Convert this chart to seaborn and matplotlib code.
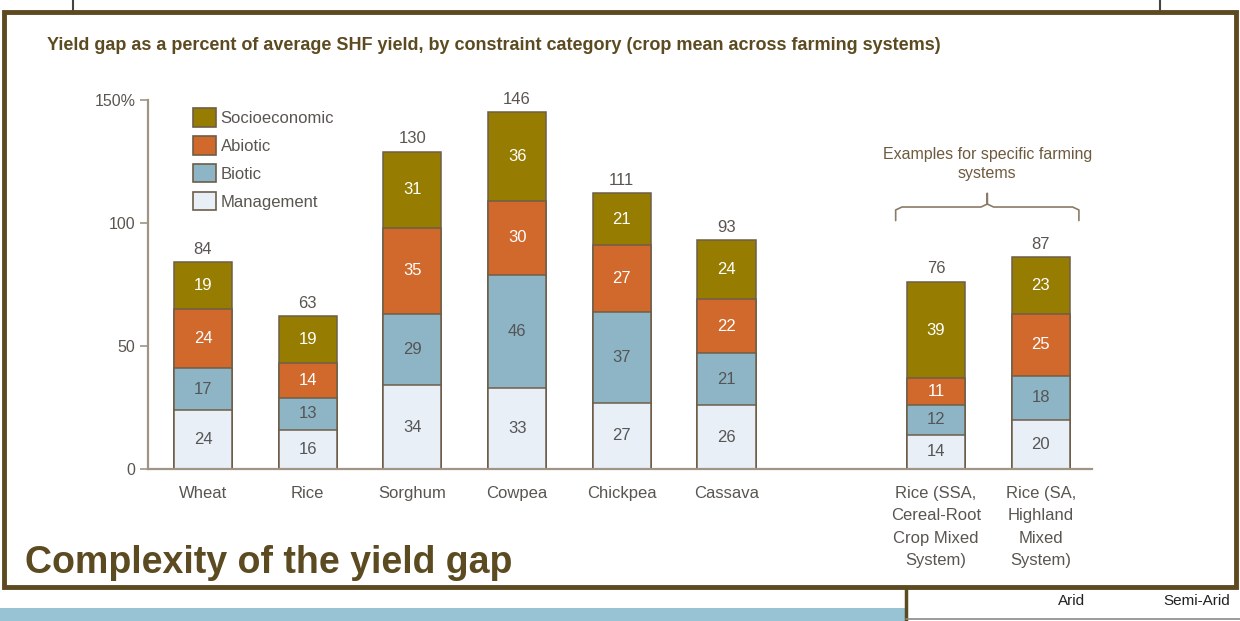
import matplotlib
matplotlib.use("Agg")
import matplotlib.pyplot as plt
import matplotlib.patches as mpatches
import matplotlib.lines as mlines
import numpy as np
import pandas as pd
import seaborn as sns

# ---------------- data ----------------
crops = ["Wheat", "Rice", "Sorghum", "Cowpea", "Chickpea", "Cassava",
         "Rice (SSA,\nCereal-Root\nCrop Mixed\nSystem)",
         "Rice (SA,\nHighland\nMixed\nSystem)"]
management = [24, 16, 34, 33, 27, 26, 14, 20]
biotic = [17, 13, 29, 46, 37, 21, 12, 18]
abiotic = [24, 14, 35, 30, 27, 22, 11, 25]
socioeconomic = [19, 19, 31, 36, 21, 24, 39, 23]
totals = [84, 63, 130, 146, 111, 93, 76, 87]
series_names = ["Management", "Biotic", "Abiotic", "Socioeconomic"]
y_ticks = [0, 50, 100, 150]
y_tick_labels = ["0", "50", "100", "150%"]
title = ("Yield gap as a percent of average SHF yield, by constraint category "
         "(crop mean across farming systems)")
slide_title = "Complexity of the yield gap"
bracket_text = "Examples for specific farming\nsystems"

# ---------------- style ----------------
colors = {"Socioeconomic": "#967C00", "Abiotic": "#D0692B",
          "Biotic": "#8DB5C6", "Management": "#E8EFF7"}
label_colors = {"Socioeconomic": "white", "Abiotic": "white",
                "Biotic": "#555555", "Management": "#555555"}
edge = "#6E5E49"
axis_col = "#A09585"
text_grey = "#5A5550"
brown = "#5C4A20"

sns.set_theme(style="white")
plt.rcParams["font.family"] = ["Liberation Sans Narrow", "Liberation Sans", "DejaVu Sans"]

fig = plt.figure(figsize=(12.4, 6.21), dpi=100)
W, H = 1240, 621

ax = fig.add_axes([148 / W, 1 - 469 / H, (1092 - 148) / W, (469 - 100) / H])
ax.set_facecolor("none")

gap_label = " "
order = crops[:6] + [gap_label] + crops[6:]

df = pd.DataFrame({"crop": crops, "Management": management, "Biotic": biotic,
                   "Abiotic": abiotic, "Socioeconomic": socioeconomic})
cum = df[series_names].cumsum(axis=1)

# draw from the top layer down so lower segments overlay
for name in reversed(series_names):
    sns.barplot(x=df["crop"], y=cum[name], order=order, color=colors[name],
                saturation=1, width=0.555, edgecolor=edge, linewidth=1.1,
                errorbar=None, ax=ax)

pos = {c: order.index(c) for c in crops}
for i, c in enumerate(crops):
    bottom = 0
    for name in series_names:
        v = df.loc[i, name]
        ax.text(pos[c], bottom + v / 2, f"{v}", ha="center", va="center",
                fontsize=12, color=label_colors[name])
        bottom += v
    ax.annotate(f"{totals[i]}", (pos[c], bottom), xytext=(0, 4),
                textcoords="offset points", ha="center", va="bottom",
                fontsize=12, color=text_grey)

ax.set_xlim(-0.525, 8.49)
ax.set_ylim(0, 150)
ax.set_yticks(y_ticks)
ax.set_yticklabels(y_tick_labels)
ax.set_xlabel("")
ax.set_ylabel("")
ax.set_xticks(range(len(order)))
ax.set_xticklabels(order)
for s in ["top", "right"]:
    ax.spines[s].set_visible(False)
for s in ["left", "bottom"]:
    ax.spines[s].set_color(axis_col)
    ax.spines[s].set_linewidth(1.6)
ax.tick_params(axis="y", which="both", left=True, length=6, width=1.2,
               color=axis_col, labelsize=11.5, labelcolor=text_grey, pad=3)
ax.tick_params(axis="x", bottom=False, labelsize=12, labelcolor=text_grey, pad=6)
for lbl in ax.get_xticklabels():
    lbl.set_verticalalignment("top")
    lbl.set_linespacing(1.62)
ax.grid(False)

# bracket for farming-system examples
bx0, bx1 = pos[crops[6]] - 0.385, pos[crops[7]] + 0.365
bm = (bx0 + bx1) / 2
by = 106.5
r = 0.06
ax.plot([bx0, bx0, bx0 + r, bm - r, bm, bm, bm, bm + r, bx1 - r, bx1, bx1],
        [101, by - 1.2, by, by, by + 1.2, 112, by + 1.2, by, by, by - 1.2, 101],
        color="#8A7B66", lw=1.2, clip_on=False, solid_joinstyle="round")
ax.text(bm, 124, bracket_text, ha="center", va="center", fontsize=11.5,
        color="#6E5A3E", linespacing=1.4)

# legend
handles = [mpatches.Patch(facecolor=colors[n], edgecolor=edge, linewidth=1.2, label=n)
           for n in reversed(series_names)]
fig.legend(handles=handles, loc="upper left",
           bbox_to_anchor=(193 / W, 1 - 108 / H), bbox_transform=fig.transFigure,
           frameon=False, fontsize=12, handlelength=1.35, handleheight=1.35,
           labelspacing=0.55, handletextpad=0.3, borderpad=0, borderaxespad=0,
           labelcolor=text_grey)

# titles
fig.text(47 / W, 1 - 45 / H, title, ha="left", va="center", fontsize=13,
         fontweight="bold", color=brown)
fig.text(25 / W, 1 - 563 / H, slide_title, ha="left", va="center", fontsize=27,
         fontweight="bold", color=brown)

# slide frame and surrounding strips
fig.add_artist(mpatches.Rectangle((0, 0), 905 / W, 13 / H,
                                  transform=fig.transFigure, facecolor="#97C3D4",
                                  edgecolor="none", zorder=0))
fig.add_artist(mlines.Line2D([906 / W, 906 / W], [0, 1 - 588 / H],
                             transform=fig.transFigure, color=brown, lw=2.5))
fig.add_artist(mlines.Line2D([906 / W, 1], [1 - 619 / H, 1 - 619 / H],
                             transform=fig.transFigure, color="#8A8A8A", lw=1.2))
fig.text(1072 / W, 1 - 601 / H, "Arid", ha="center", va="center", fontsize=11,
         color="#222222", family=["Liberation Sans", "DejaVu Sans"])
fig.text(1197 / W, 1 - 601 / H, "Semi-Arid", ha="center", va="center", fontsize=11,
         color="#222222", family=["Liberation Sans", "DejaVu Sans"])
for xx in [73, 1160]:
    fig.add_artist(mlines.Line2D([xx / W, xx / W], [1 - 10 / H, 1],
                                 transform=fig.transFigure, color="#444444", lw=1.5))
fig.add_artist(mpatches.Rectangle((4 / W, 1 - 587 / H), 1232 / W, 575 / H,
                                  transform=fig.transFigure, facecolor="none",
                                  edgecolor=brown, linewidth=3.5, zorder=5))

fig.savefig("out.png", dpi=100)
